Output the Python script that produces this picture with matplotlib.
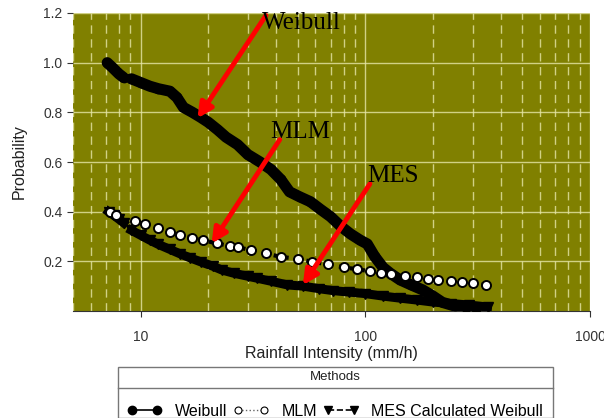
import numpy as np
import matplotlib
matplotlib.use("Agg")
import matplotlib.pyplot as plt
from matplotlib.lines import Line2D
from matplotlib.patches import Rectangle

plt.rcParams["font.family"] = ["Liberation Sans", "DejaVu Sans"]

# ---- data ----
weibull_x = [7.1, 7.5, 8.0, 8.4, np.nan, 9.1, 10.0, 11.0, 12.0, 13.5, 14.5, 15.5, 17.0, 18.5, 20.0,
             22.0, 24.0, 27.0, 30.0, 34.0, 38.0, 42.0, 46.0, 51.0, 57.0, 63.0, 70.0, 78.0,
             86.0, 95.0, 102.0, 110.0, 120.0, 130.0, 143.0, 160.0, 180.0, 200.0, 220.0,
             250.0, 280.0, 310.0]
weibull_p = [1.00, 0.98, 0.955, 0.94, np.nan, 0.935, 0.92, 0.905, 0.895, 0.885, 0.86, 0.82, 0.80, 0.78,
             0.76, 0.73, 0.70, 0.67, 0.63, 0.60, 0.57, 0.53, 0.48, 0.46, 0.44, 0.41, 0.38,
             0.34, 0.31, 0.285, 0.27, 0.22, 0.175, 0.15, 0.125, 0.105, 0.085, 0.06, 0.035,
             0.02, 0.012, 0.008]

mlm_x = [7.3, 7.8, np.nan, 9.4, 10.5, 12.0, 13.5, 15.0, 17.0, 19.0, 21.8, 25.0, 27.0, 31.0, 36.0,
         42.0, 50.0, 58.0, 68.0, 80.0, 92.0, 105.0, 118.0, 130.0, 150.0, 170.0, 190.0,
         210.0, 240.0, 270.0, 300.0, 345.0]
mlm_p = [0.398, 0.385, np.nan, 0.364, 0.352, 0.335, 0.318, 0.305, 0.295, 0.285, 0.272, 0.262, 0.257,
         0.245, 0.232, 0.218, 0.21, 0.198, 0.188, 0.176, 0.168, 0.16, 0.155, 0.15, 0.142,
         0.135, 0.13, 0.124, 0.12, 0.115, 0.112, 0.104]

mes_x = [7.2, 7.6, 8.0, 8.4, np.nan, 9.1, 10.0, 11.0, 12.0, 13.5, 15.0, 16.5, 18.5, 21.0, 23.0,
         26.0, 30.0, 33.0, 38.0, 45.0, 53.0, 62.0, 72.0, 85.0, 100.0, 120.0, 142.0,
         170.0, 200.0, 240.0, 290.0, 350.0]
mes_p = [0.40, 0.385, 0.37, 0.355, np.nan, 0.325, 0.305, 0.285, 0.268, 0.248, 0.23, 0.215, 0.198,
         0.18, 0.165, 0.152, 0.14, 0.132, 0.12, 0.105, 0.10, 0.09, 0.082, 0.076, 0.07,
         0.06, 0.052, 0.044, 0.036, 0.03, 0.024, 0.016]

legend_labels = ["Weibull", "MLM", "MES Calculated Weibull"]
legend_title = "Methods"
x_ticks = [10, 100, 1000]
x_tick_labels = ["10", "100", "1000"]
y_ticks = [0.2, 0.4, 0.6, 0.8, 1.0, 1.2]
y_tick_labels = ["0.2", "0.4", "0.6", "0.8", "1.0", "1.2"]

# annotations: (label, text pos, arrow start, arrow tip) in data coords
annotations = [
    ("Weibull", (34.6, 1.136), (36.1, 1.19), (17.9, 0.776)),
    ("MLM", (37.6, 0.696), (41.6, 0.69), (20.7, 0.272)),
    ("MES", (101.6, 0.52), (104.8, 0.512), (52.7, 0.104)),
]

# ---- figure ----
W, H = 604, 418
fig = plt.figure(figsize=(W / 100, H / 100), dpi=100)
ax = fig.add_axes([73 / W, 1 - 311 / H, (590 - 73) / W, (311 - 13) / H])
ax.set_facecolor("#808000")

ax.set_xscale("log")
ax.set_xlim(5, 1000)
ax.set_ylim(0.0, 1.2)

gridc = "#e6e6a8"
ax.grid(True, which="major", axis="both", color=gridc, lw=1.0, ls="-", alpha=0.8)
ax.grid(True, which="minor", axis="x", color=gridc, lw=1.0, ls=(0, (6, 4)), alpha=0.8)
ax.set_axisbelow(True)

# series
ax.plot(weibull_x, weibull_p, color="black", lw=8, marker="o", ms=6,
        solid_capstyle="round", solid_joinstyle="round", zorder=3)
ax.plot(mes_x, mes_p, color="black", lw=6.5, marker="v", ms=7,
        solid_joinstyle="round", zorder=3)
ax.plot(mlm_x, mlm_p, color="black", lw=3, ls=":", marker="o", ms=6.5,
        mfc="white", mec="black", mew=1.4, zorder=4)

ax.set_xticks(x_ticks)
ax.set_xticklabels(x_tick_labels)
ax.set_yticks(y_ticks)
ax.set_yticklabels(y_tick_labels)
ax.tick_params(axis="x", which="minor", length=0)
ax.tick_params(axis="both", which="major", labelsize=10, colors="#333333", length=4)
ax.tick_params(axis="x", which="major", pad=10)
for s in ["top", "right"]:
    ax.spines[s].set_visible(False)
ax.spines["left"].set_visible(False)
ax.spines["bottom"].set_color("#333333")

ax.set_xlabel("Rainfall Intensity (mm/h)", fontsize=11.5, color="#222222", labelpad=1)
ax.set_ylabel("Probability", fontsize=11.5, color="#222222", labelpad=12)

for label, tpos, start, tip in annotations:
    ax.annotate("", xy=tip, xytext=start,
                arrowprops=dict(arrowstyle="-|>", color="red", lw=3.5,
                                mutation_scale=22, shrinkA=0, shrinkB=0),
                zorder=6)
    ax.text(tpos[0], tpos[1], label, family="Liberation Serif", fontsize=18,
            va="baseline", ha="left", color="black", zorder=7)

# legend box
box = Rectangle((118 / W, 0), (553 - 118) / W, (418 - 367) / H,
                transform=fig.transFigure, fill=False, edgecolor="#777777", lw=1)
fig.add_artist(box)
fig.add_artist(Line2D([118 / W, 553 / W], [1 - 388 / H, 1 - 388 / H],
                      transform=fig.transFigure, color="#777777", lw=1))
fig.text(335 / W, 1 - 377.5 / H, legend_title, ha="center", va="center", fontsize=9.5,
         color="#222222")

handles = [
    Line2D([], [], color="black", lw=1.2, marker="o", ms=6),
    Line2D([], [], color="#666666", lw=1, ls=":", marker="o", ms=5, mfc="white",
           mec="black", mew=0.8),
    Line2D([], [], color="black", lw=1.2, ls="--", marker="v", ms=6),
]
fig.legend(handles, legend_labels, ncol=3, frameon=False, loc="center",
           bbox_to_anchor=(335 / W, 1 - 411 / H), fontsize=11.5, numpoints=2,
           handlelength=2.2, handletextpad=0.8, columnspacing=0.4)

fig.savefig("out.png", dpi=100)
